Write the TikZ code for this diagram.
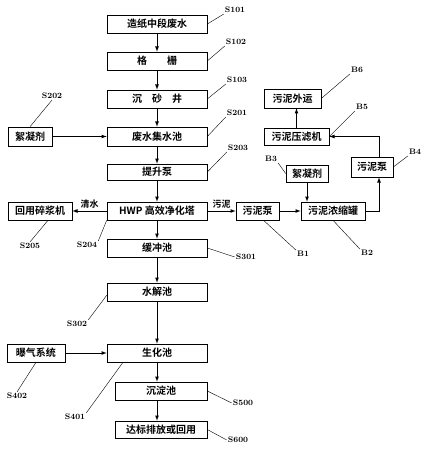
\documentclass[tikz,border=0pt]{standalone}
\usepackage{fontspec}
\newfontfamily\cjk{Noto Sans CJK SC}[BoldFont={Noto Sans CJK SC Bold}]
\usetikzlibrary{shapes,arrows,positioning}

\tikzset{
  box/.style={draw, semithick, minimum height=18pt, inner sep=1pt, font=\cjk\bfseries},
  flow/.style={thick, -latex},
  lead/.style={thin},
  tag/.style={font=\footnotesize\bfseries, inner sep=1pt},
  flowtext/.style={above, font=\cjk\small\bfseries, inner sep=2pt},
}

\begin{document}
\begin{tikzpicture}[x=1pt, y=-1pt]
\useasboundingbox (0,0) rectangle (422,449);
% main process line
\node[box, minimum width=100pt] (src) at (157,24) {造纸中段废水};
\node[box, minimum width=100pt] (grid) at (157,61) {格\hspace{2em}栅};
\node[box, minimum width=100pt] (grit) at (157,99) {沉\hspace{1em}砂\hspace{1em}井};
\node[box, minimum width=100pt, minimum height=19pt] (tank) at (157,136.5) {废水集水池};
\node[box, minimum width=100pt, minimum height=16pt] (lift) at (157,172) {提升泵};
\node[box, minimum width=100pt] (hwp) at (157,211) {HWP 高效净化塔};
\node[box, minimum width=100pt] (buffer) at (157,248) {缓冲池};
\node[box, minimum width=100pt] (hydro) at (157,292) {水解池};
\node[box, minimum width=100pt] (bio) at (157,353) {生化池};
\node[box, minimum width=92pt] (settle) at (161,391) {沉淀池};
\node[box, minimum width=92pt, minimum height=17pt] (final) at (161,429.5) {达标排放或回用};
% left side
\node[box, minimum width=44pt, minimum height=19pt] (flocL) at (30,136.5) {絮凝剂};
\node[box, minimum width=64pt] (reuse) at (40,211) {回用碎浆机};
\node[box, minimum width=58pt] (aer) at (36,353) {曝气系统};
% sludge line
\node[box, minimum width=43pt] (pump1) at (257.5,211) {污泥泵};
\node[box, minimum width=64pt] (thick) at (333,211) {污泥浓缩罐};
\node[box, minimum width=42pt, minimum height=17pt] (floc2) at (307,173.5) {絮凝剂};
\node[box, minimum width=42pt, minimum height=20pt] (pump2) at (372,167) {污泥泵};
\node[box, minimum width=65pt, minimum height=17pt] (press) at (296.5,136.5) {污泥压滤机};
\node[box, minimum width=57pt, minimum height=19pt] (out) at (292.5,98.5) {污泥外运};

% connectors
\foreach \a/\b in {src/grid, grid/grit, grit/tank, tank/lift, lift/hwp, hwp/buffer, buffer/hydro, hydro/bio}
  \draw[flow] (\a) -- (\b);
\draw[flow] (bio.south) -- (bio.south |- settle.north);
\draw[flow] (bio.south |- settle.south) -- (bio.south |- final.north);
\draw[flow] (flocL) -- (tank);
\draw[flow] (hwp) -- node[flowtext] {清水} (reuse);
\draw[flow] (aer) -- (bio);
\draw[flow] (hwp) -- node[flowtext] {污泥} (pump1);
\draw[flow] (pump1) -- (thick);
\draw[flow] (floc2.south) -- (floc2.south |- thick.north);
\draw[flow] (thick.east) -| ([xshift=7pt]pump2.south);
\draw[flow] ([xshift=7pt]pump2.north) |- (press.east);
\draw[flow] (press.north) -- (press.north |- out.south);

% reference labels
\node[tag] (s101) at (235,10) {S101};
\node[tag] (s102) at (236,42) {S102};
\node[tag] (s103) at (237,80) {S103};
\node[tag] (s201) at (237,113) {S201};
\node[tag] (s203) at (238,148) {S203};
\node[tag] (s202) at (52,96) {S202};
\node[tag] (s205) at (30,246) {S205};
\node[tag] (s204) at (87,245) {S204};
\node[tag] (s301) at (246,257) {S301};
\node[tag] (s302) at (77,324) {S302};
\node[tag] (s402) at (17,396) {S402};
\node[tag] (s401) at (75,417) {S401};
\node[tag] (s500) at (243,403) {S500};
\node[tag] (s600) at (238,440) {S600};
\node[tag] (b1) at (303,254) {B1};
\node[tag] (b2) at (367,253) {B2};
\node[tag] (b3) at (271,159) {B3};
\node[tag] (b4) at (415,152) {B4};
\node[tag] (b5) at (362,107) {B5};
\node[tag] (b6) at (357,70) {B6};

% leader lines
\draw[lead] (src.east) -- (s101.south west);
\draw[lead] (grid.east) -- (s102.south west);
\draw[lead] (grit.east) -- (s103.south west);
\draw[lead] (tank.east) -- (s201.south west);
\draw[lead] (lift.east) -- (s203.south west);
\draw[lead] (flocL.north) -- (s202.south);
\draw[lead] ([xshift=8pt]reuse.south) -- (s205.north);
\draw[lead] (hwp.south west) -- (s204.north east);
\draw[lead] (buffer.east) -- (s301.west);
\draw[lead] ([yshift=6pt]hydro.south west) -- (s302.north east);
\draw[lead] (aer.south) -- (s402.north);
\draw[lead] ([xshift=-34pt]bio.south) -- (s401.north east);
\draw[lead] (settle.east) -- (s500.west);
\draw[lead] (final.east) -- (s600.west);
\draw[lead] ([xshift=6pt]pump1.south) -- (b1.north west);
\draw[lead] (thick.south) -- (b2.north west);
\draw[lead] (b3.south east) -- (floc2.west);
\draw[lead] (pump2.east) -- (b4.south west);
\draw[lead] (press.east) -- (b5.south west);
\draw[lead] (out.east) -- (b6.south west);
\end{tikzpicture}
\end{document}
